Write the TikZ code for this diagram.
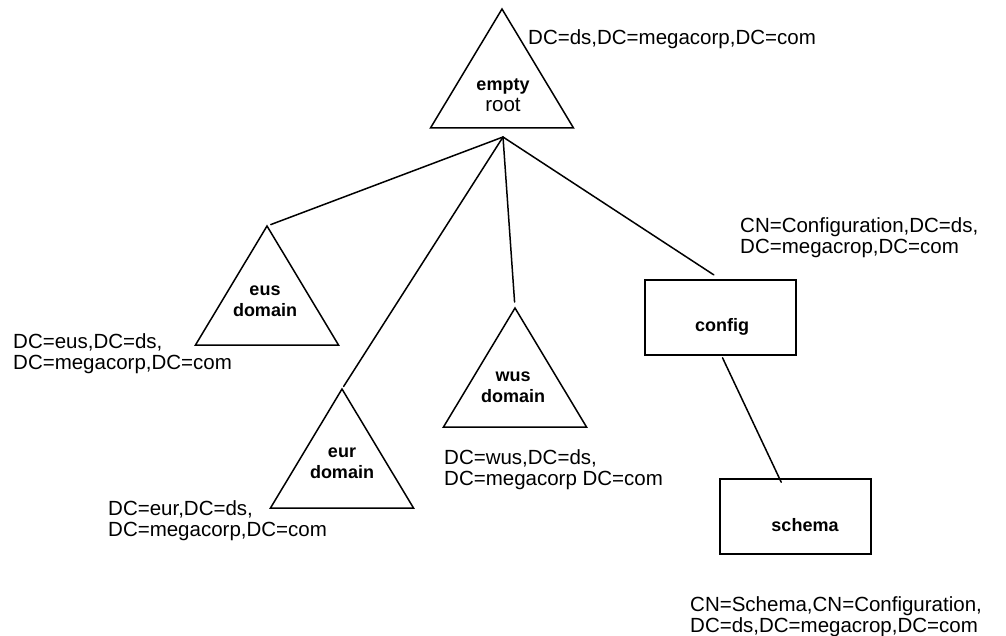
\documentclass[tikz,border=0pt]{standalone}
\usepackage{fontspec}
\setmainfont{Liberation Sans}
\usetikzlibrary{calc}

\tikzset{
  edge/.style={line width=1.5pt, line cap=round},
  tri/.style={line width=1.5pt, line join=miter},
  box/.style={draw, line width=1.5pt, minimum width=151pt, minimum height=75pt, inner sep=0pt},
  tritext/.style={font=\fontsize{18}{21}\selectfont\bfseries, align=center, inner sep=0pt},
  dnlabel/.style={font=\fontsize{20.5}{21}\selectfont, align=left, anchor=north west, inner sep=0pt},
}

% a triangle hanging from its apex
\newcommand{\domtri}[1]{\draw[tri] (#1) -- ++(71.5,119) -- ++(-143,0) -- cycle;}

\begin{document}
\begin{tikzpicture}[x=1pt, y=-1pt]
  \useasboundingbox (0,0) rectangle (1006,636);

  % 1. Apex of each triangle
  \coordinate (root) at (502,9);
  \coordinate (eus) at (267,226);
  \coordinate (eur) at (342,389);
  \coordinate (wus) at (515,308);
  \foreach \t in {root,eus,eur,wus} {\domtri{\t}}

  % 2. Names inside the triangles
  \node[tritext] (root-txt) at (503,95) {empty\\\mdseries\fontsize{20.5}{21}\selectfont root};
  \node[tritext] (eus-txt) at (265,301) {eus\\domain};
  \node[tritext] (eur-txt) at (342,463.5) {eur\\domain};
  \node[tritext] (wus-txt) at (513,387) {wus\\domain};

  % 3. The two boxes
  \node[box] (config) at (720.5,317.5) {};
  \node[box] (schema) at (795.25,516.5) {};
  \node[tritext] (config-txt) at (722,326.5) {config};
  \node[tritext] (schema-txt) at (805,525) {schema};

  % 4. Connectors
  \coordinate (fork) at (503,137);
  \draw[edge, shorten >=4pt] (fork) -- (eus);
  \draw[edge, shorten >=3pt] (fork) -- (eur);
  \draw[edge, shorten >=6pt] (fork) -- (wus);
  \draw[edge, shorten >=8pt] (fork) -- (config.north);
  \draw[edge] ($(config.south)+(2,2)$) -- ($(schema.north)+(-14,4)$);

  % 5. Distinguished names
  \node[dnlabel] (root-dn) at (528,29) {DC=ds,DC=megacorp,DC=com};
  \node[dnlabel] (eus-dn) at (13,333.5) {DC=eus,DC=ds,\\DC=megacorp,DC=com};
  \node[dnlabel] (eur-dn) at (108,500.5) {DC=eur,DC=ds,\\DC=megacorp,DC=com};
  \node[dnlabel] (wus-dn) at (444,449.5) {DC=wus,DC=ds,\\DC=megacorp DC=com};
  \node[dnlabel] (config-dn) at (740,217.5) {CN=Configuration,DC=ds,\\DC=megacrop,DC=com};
  \node[dnlabel] (schema-dn) at (690,596.5) {CN=Schema,CN=Configuration,\\DC=ds,DC=megacrop,DC=com};

\end{tikzpicture}
\end{document}
